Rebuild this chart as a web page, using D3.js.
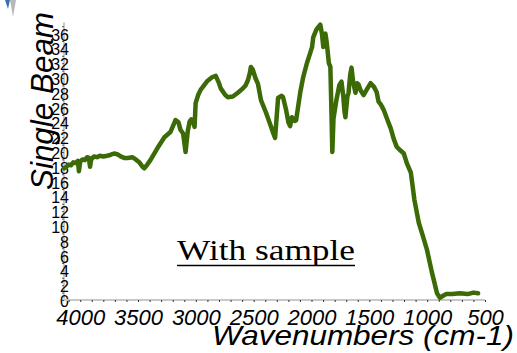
<!DOCTYPE html>
<html>
<head>
<meta charset="utf-8">
<script src="https://cdn.jsdelivr.net/npm/d3@7"></script>
<style>
  body { margin: 0; background: #fff; }
  svg { display: block; }
  .tick-y text { font-family: "Liberation Sans", Arial, sans-serif; font-size: 16px; fill: #000; }
  .tick-x text { font-family: "Liberation Sans", Arial, sans-serif; font-size: 22px; font-style: italic; fill: #000; }
</style>
</head>
<body>
<svg id="chart" width="517" height="353"></svg>
<script>
// spectrum (cm-1, single beam)
const wavenumbers = [4140, 4120, 4100, 4080, 4060, 4040, 4020, 4011, 4000, 3980, 3960, 3940, 3925, 3915, 3905,
  3880, 3854, 3830, 3800, 3767, 3740, 3707, 3680, 3650, 3620, 3590, 3550, 3520, 3489, 3460, 3446, 3420, 3393,
  3333, 3272, 3220, 3176, 3150, 3133, 3110, 3089, 3070, 3054, 3040, 3028, 3011, 3002, 2980, 2959, 2900, 2860,
  2828, 2800, 2785, 2750, 2724, 2680, 2637, 2593, 2570, 2550, 2533, 2524, 2507, 2485, 2463, 2437, 2393, 2350,
  2330, 2315, 2289, 2260, 2246, 2220, 2200, 2185, 2170, 2159, 2145, 2133, 2098, 2072, 2040, 2011, 1995, 1985,
  1959, 1940, 1924, 1910, 1898, 1885, 1880, 1870, 1863, 1850, 1837, 1830, 1820, 1810, 1785, 1760, 1750, 1741,
  1725, 1715, 1707, 1690, 1680, 1665, 1654, 1640, 1620, 1605, 1593, 1575, 1550, 1520, 1489, 1460, 1437, 1420,
  1400, 1376, 1340, 1315, 1290, 1263, 1230, 1202, 1176, 1141, 1110, 1072, 1040, 1002, 960, 915, 890, 870, 837,
  780, 720, 650, 600, 560]
const singleBeam = [17.8, 18.0, 18.3, 18.2, 18.6, 18.5, 18.8, 17.4, 18.7, 19.0, 18.9, 19.3, 19.2, 18.0, 19.0,
  19.4, 19.3, 19.5, 19.4, 19.5, 19.6, 19.8, 19.7, 19.4, 19.2, 19.2, 19.3, 19.0, 18.6, 18.0, 17.8, 18.3, 18.9,
  20.5, 22.0, 22.7, 24.3, 24.0, 23.0, 22.5, 20.0, 22.8, 24.1, 24.4, 24.2, 23.4, 26.6, 27.7, 28.4, 29.6, 30.1,
  30.3, 29.3, 28.6, 27.8, 27.4, 27.5, 28.0, 28.6, 29.0, 29.7, 30.7, 31.5, 31.1, 30.0, 29.2, 27.0, 25.3, 23.4,
  22.5, 21.9, 27.3, 27.6, 27.4, 25.7, 24.0, 23.5, 24.7, 24.5, 24.2, 24.3, 28.0, 30.1, 32.0, 33.4, 34.2, 35.5,
  36.5, 36.9, 37.2, 36.0, 34.2, 35.8, 36.0, 35.0, 34.0, 32.0, 31.5, 27.0, 20.0, 24.5, 27.0, 29.0, 29.3, 29.5,
  27.5, 25.5, 24.7, 27.5, 28.0, 30.5, 31.4, 29.5, 28.0, 29.3, 29.1, 28.3, 27.7, 28.5, 29.3, 28.8, 28.1, 26.8,
  26.4, 25.7, 24.2, 23.2, 21.8, 20.7, 20.2, 19.8, 18.5, 17.2, 13.5, 10.4, 8.8, 6.8, 3.8, 0.9, 0.3, 0.5, 0.8,
  0.8, 0.9, 0.8, 1.0, 0.9]
const xTicks = [4000, 3500, 3000, 2500, 2000, 1500, 1000, 500]
const yTicks = [0, 2, 4, 6, 8, 10, 12, 14, 16, 18, 20, 22, 24, 26, 28, 30, 32, 34, 36]

const svg = d3.select('#chart')

const x = d3.scaleLinear().domain([4140, 500]).range([64, 485])
const y = d3.scaleLinear().domain([0, 37.5]).range([300, 22.5])

// little marks in the top-left corner
svg.append('path').attr('d', 'M5 0 L10 0 L8 9 Z').attr('fill', '#3d6fb0')
svg.append('path').attr('d', 'M10 0 L16 0 L13 17 Z').attr('fill', '#b8b8b8')

// y axis: grey line, tiny ticks every unit, labels every 2
const yAxis = svg.append('g').attr('transform', 'translate(64,0)')
yAxis.append('line').attr('y1', y(37.5)).attr('y2', y(0))
  .attr('stroke', '#c8c8c8').attr('stroke-width', 2)
yAxis.append('g')
  .call(d3.axisLeft(y).tickValues(d3.range(0, 38, 1)).tickSize(2).tickFormat(''))
  .call(g => g.select('.domain').remove())
  .call(g => g.selectAll('line').attr('stroke', '#555'))
yAxis.append('g').attr('class', 'tick-y')
  .call(d3.axisLeft(y).tickValues(yTicks).tickSize(0).tickPadding(0))
  .call(g => g.select('.domain').remove())
  .call(g => g.selectAll('text').attr('x', 5).attr('dy', '0.4em'))

// x axis
const xAxis = svg.append('g').attr('transform', 'translate(0,300)')
xAxis.append('line').attr('x1', 64).attr('x2', 485)
  .attr('stroke', '#c8c8c8').attr('stroke-width', 2)
xAxis.append('g')
  .call(d3.axisBottom(x).tickValues(d3.range(4100, 499, -100)).tickSize(2).tickFormat(''))
  .call(g => g.select('.domain').remove())
  .call(g => g.selectAll('line').attr('stroke', '#333'))
xAxis.append('g').attr('class', 'tick-x')
  .call(d3.axisBottom(x).tickValues(xTicks).tickSize(0).tickPadding(9).tickFormat(d3.format('d')))
  .call(g => g.select('.domain').remove())

// spectrum
const pts = wavenumbers.map((w, i) => [w, singleBeam[i]])
svg.append('path')
  .datum(pts)
  .attr('fill', 'none')
  .attr('stroke', '#3b6a06')
  .attr('stroke-width', 4.5)
  .attr('stroke-linejoin', 'round')
  .attr('stroke-linecap', 'round')
  .attr('d', d3.line().x(d => x(d[0])).y(d => y(d[1])))

// axis titles
svg.append('text')
  .attr('transform', 'translate(53,101) rotate(-90)')
  .attr('text-anchor', 'middle')
  .attr('font-family', '"Liberation Sans", Arial, sans-serif')
  .attr('font-style', 'italic')
  .attr('font-size', 32)
  .attr('textLength', 178).attr('lengthAdjust', 'spacingAndGlyphs')
  .text('Single Beam')

svg.append('text')
  .attr('x', 514).attr('y', 345)
  .attr('text-anchor', 'end')
  .attr('font-family', '"Liberation Sans", Arial, sans-serif')
  .attr('font-style', 'italic')
  .attr('font-size', 28)
  .attr('textLength', 302).attr('lengthAdjust', 'spacingAndGlyphs')
  .text('Wavenumbers (cm-1)')

// annotation
svg.append('text')
  .attr('x', 177).attr('y', 260)
  .attr('font-family', '"Liberation Serif", "Times New Roman", serif')
  .attr('font-size', 29)
  .attr('textLength', 178).attr('lengthAdjust', 'spacingAndGlyphs')
  .text('With sample')
svg.append('line').attr('x1', 177).attr('x2', 355).attr('y1', 265.5).attr('y2', 265.5)
  .attr('stroke', '#000').attr('stroke-width', 1.5)
</script>
</body>
</html>
